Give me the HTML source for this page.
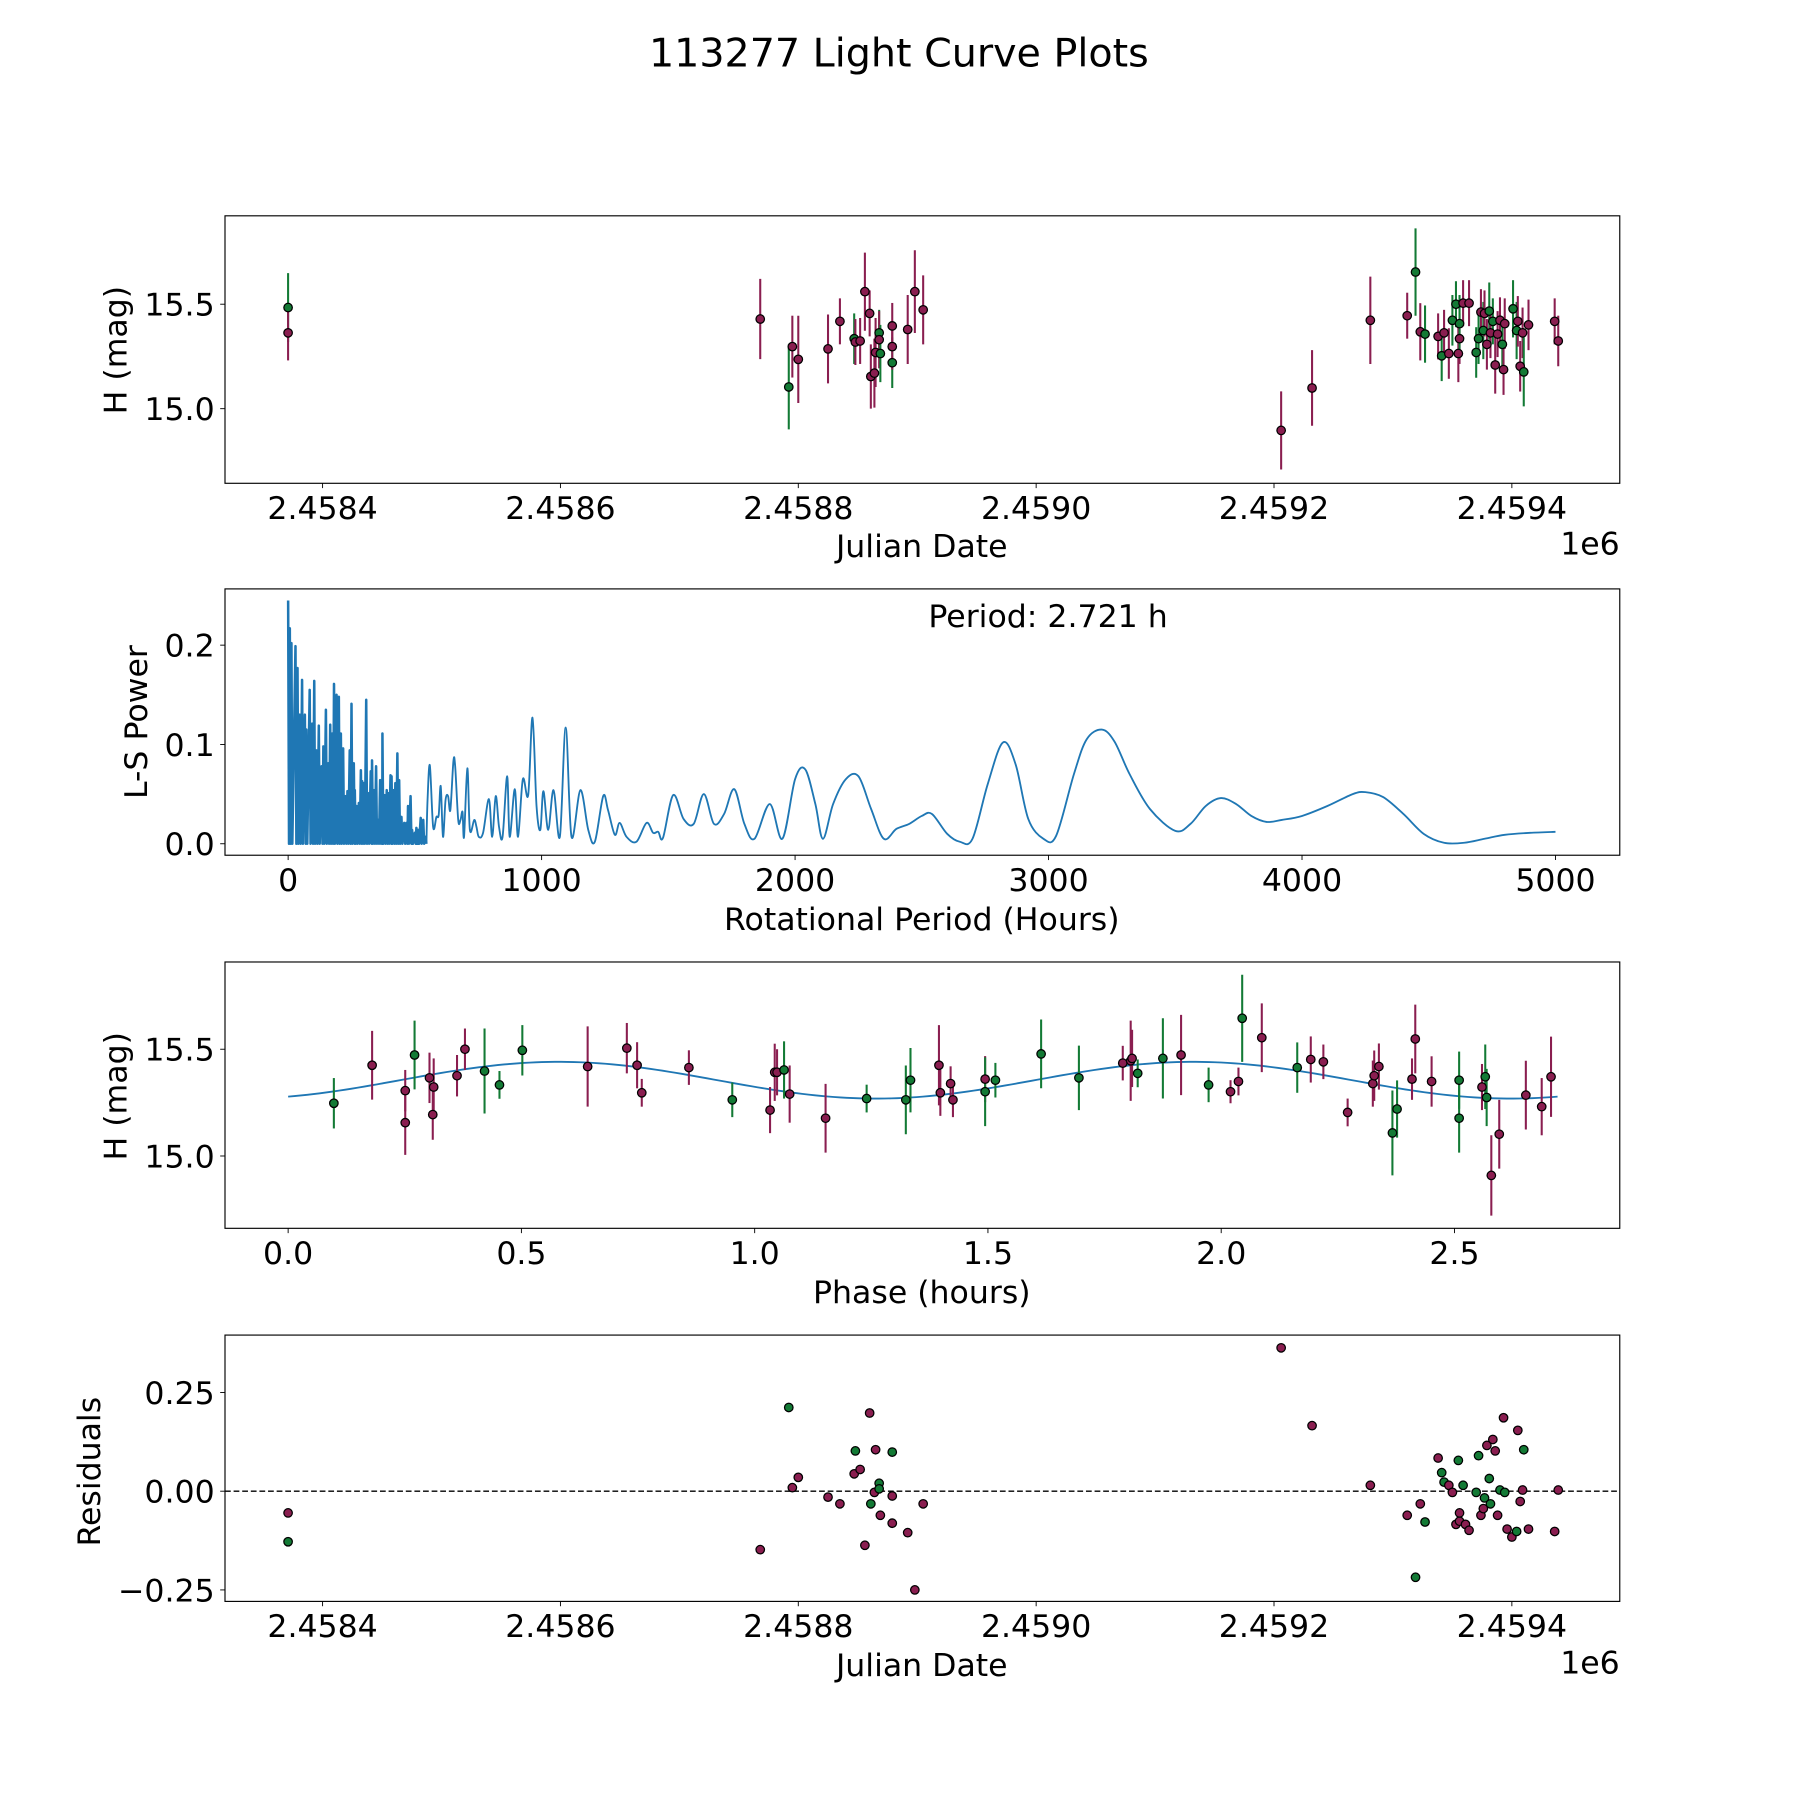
<!DOCTYPE html>
<html><head><meta charset="utf-8"><style>
html,body{margin:0;padding:0;background:#fff;}
svg{display:block;}
text{font-family:"DejaVu Sans","Liberation Sans",sans-serif;fill:#000;}
</style></head><body>
<svg id="fig" xmlns="http://www.w3.org/2000/svg" width="1800" height="1800" viewBox="0 0 1568 1568">
<rect width="1568" height="1568" fill="#fff"/>
<text x="783" y="58" font-size="34.5" text-anchor="middle">113277 Light Curve Plots</text>
<g id="plots"></g>
</svg>
<script>
// ---- Light curve data (panel 1) ----
const jd1 = [2458371,2458371,2458768,2458792,2458795,2458800,2458825,2458835,2458847,2458848,2458852,2458856,2458860,2458861,2458864,2458865,2458868,2458868,2458869,2458879,2458879,2458879,2458892,2458898,2458905,
2459206,2459232,2459281,2459312,2459319,2459323,2459327,2459338,2459341,2459343,2459347,2459350,2459353,2459355,2459356,2459356,2459359,2459364,2459370,2459372,2459374,2459376,2459377,2459379,2459381,2459382,2459384,2459386,2459388,2459390,2459392,2459393,2459394,2459401,2459404,2459405,2459407,2459409,2459410,2459414,2459436,2459439];
const mag1 = [15.484,15.363,15.429,15.104,15.297,15.236,15.286,15.418,15.335,15.319,15.324,15.560,15.456,15.154,15.170,15.269,15.363,15.330,15.264,15.220,15.396,15.297,15.379,15.560,15.473,
14.896,15.099,15.423,15.445,15.654,15.368,15.357,15.346,15.253,15.363,15.264,15.423,15.5,15.264,15.335,15.407,15.505,15.505,15.269,15.335,15.462,15.374,15.456,15.308,15.467,15.363,15.418,15.209,15.357,15.423,15.308,15.187,15.407,15.478,15.374,15.418,15.203,15.363,15.176,15.401,15.418,15.324];
const err1 = [.165,.132,.192,.203,.148,.209,.165,.11,.121,.11,.11,.187,.11,.154,.165,.165,.11,.137,.137,.121,.11,.11,.165,.198,.165,
.187,.181,.209,.11,.209,.137,.137,.11,.121,.11,.121,.121,.11,.137,.121,.137,.11,.11,.121,.121,.11,.137,.11,.121,.137,.121,.11,.137,.11,.11,.121,.121,.121,.137,.137,.121,.121,.121,.165,.121,.11,.121];
const band1 = ["g","m","m","g","m","m","m","m","g","m","m","m","m","m","m","m","g","m","g","g","m","m","m","m","m",
"m","m","m","m","g","m","g","m","g","m","m","g","g","m","m","g","m","m","g","g","m","g","m","m","g","m","g","m","m","m","g","m","m","g","g","m","m","m","g","m","m","m"];
// ---- Periodogram data (panel 2) ----
const denseP = [0,6.6,13,29,37,46,55,66,72,85,95,103,112,121,132,139,149,158,166,174,181,191,200,208,217,226,234,243,250,259,263,270,279,287,292,299,308,316,326,331,339,347,355,363,368,372,381,389,395,404,408,416,423,431,438,447,458,467,473,483,489,500,506,513,523,533,542];
const denseV = [.245,.217,.202,.199,.177,.130,.165,.130,.115,.155,.121,.164,.094,.119,.078,.098,.135,.081,.120,.111,.161,.150,.148,.111,.096,.048,.053,.094,.141,.081,.054,.038,.041,.074,.063,.061,.145,.051,.073,.084,.054,.078,.024,.064,.041,.111,.049,.054,.051,.069,.068,.054,.061,.091,.064,.027,.021,.021,.038,.048,.014,.011,.016,.014,.026,.024,.007];
const smoothP = [550,559,572,585,594,602,611,621,631,640,652,659,671,680,688,694,707,717,734,743,752,769,792,805,819,832,846,864,874,894,907,926,947,964,980,995,1007,1026,1047,1072,1095,1118,1153,1184,1210,1243,1262,1289,1308,1335,1374,1414,1440,1460,1479,1519,1560,1600,1640,1680,1720,1760,1800,1840,1900,1950,2000,2040,2080,2110,2150,2200,2250,2300,2350,2400,2450,2500,2540,2600,2650,2700,2760,2820,2870,2920,2980,3030,3100,3150,3210,3260,3320,3400,3500,3560,3620,3680,3740,3800,3860,3920,4000,4100,4200,4250,4320,4400,4480,4560,4640,4720,4800,4900,5000];
const smoothV = [.044,.079,.017,.027,.029,.058,.007,.044,.048,.034,.083,.078,.024,.024,.032,.007,.076,.014,.024,.017,.007,.011,.045,.007,.048,.017,.007,.068,.007,.055,.007,.065,.049,.127,.038,.014,.053,.014,.054,.007,.117,.007,.054,.014,.002,.048,.034,.009,.021,.007,.002,.021,.011,.012,.006,.049,.025,.02,.05,.02,.03,.055,.02,.005,.04,.005,.065,.075,.04,.005,.04,.065,.068,.035,.005,.015,.02,.028,.03,.01,.002,.005,.06,.102,.08,.025,.005,.008,.07,.105,.115,.103,.07,.035,.013,.02,.038,.046,.04,.028,.022,.024,.028,.038,.05,.052,.047,.03,.01,.001,.001,.005,.009,.011,.012];
// ---- Phased data (panel 3) ----
const phase3 = [.098,.180,.251,.251,.271,.303,.310,.312,.362,.379,.421,.453,.502,.642,.726,.748,.758,.859,.952,1.033,1.043,1.048,1.063,1.075,1.152,1.240,1.324,1.334,1.395,1.398,1.420,1.425,1.494,1.494,1.516,1.614,1.695,1.789,1.806,1.809,1.821,1.875,1.914,1.973,2.020,2.037,2.045,2.087,2.163,2.192,2.219,2.271,2.325,2.328,2.338,2.367,2.377,2.409,2.416,2.451,2.510,2.510,2.559,2.566,2.569,2.579,2.596,2.653,2.687,2.707];
const mag3 = [15.247,15.425,15.306,15.156,15.473,15.366,15.194,15.323,15.376,15.5,15.398,15.333,15.495,15.419,15.505,15.425,15.296,15.414,15.263,15.215,15.392,15.392,15.403,15.290,15.177,15.269,15.263,15.355,15.425,15.296,15.339,15.263,15.360,15.301,15.355,15.478,15.366,15.435,15.446,15.457,15.387,15.457,15.473,15.333,15.301,15.349,15.645,15.554,15.414,15.452,15.441,15.204,15.339,15.376,15.419,15.108,15.220,15.360,15.548,15.349,15.355,15.177,15.323,15.371,15.274,14.909,15.102,15.285,15.231,15.371];
const err3 = [.118,.161,.097,.151,.161,.118,.118,.134,.097,.097,.199,.065,.118,.188,.118,.108,.065,.081,.081,.108,.134,.108,.134,.134,.161,.065,.161,.151,.188,.108,.081,.081,.108,.161,.081,.161,.151,.081,.188,.134,.065,.188,.188,.081,.054,.065,.204,.161,.118,.108,.081,.065,.108,.118,.108,.199,.134,.097,.161,.118,.134,.161,.108,.151,.134,.188,.161,.161,.134,.188];
const band3 = ["g","m","m","m","g","m","m","m","m","m","g","g","g","m","m","m","m","m","g","m","m","m","g","m","m","g","g","g","m","m","m","m","m","g","g","g","g","m","m","m","g","g","m","g","m","m","g","m","g","m","m","m","m","m","m","g","g","m","m","m","g","g","m","g","g","m","m","m","m","m"];
// fit parameters: mean, amplitude, period (h), phase of peak
const fitParams = [15.355, 0.086, 2.721, 0.58];
// ---- Residuals (panel 4) ----
const jd4 = [2458371,2458371,2458768,2458792,2458795,2458800,2458825,2458835,2458847,2458848,2458852,2458856,2458860,2458861,2458864,2458865,2458868,2458868,2458869,2458879,2458879,2458879,2458892,2458898,2458905,
2459206,2459232,2459281,2459312,2459319,2459323,2459327,2459338,2459341,2459343,2459347,2459350,2459353,2459355,2459356,2459356,2459359,2459361,2459364,2459370,2459372,2459374,2459376,2459377,2459379,2459381,2459382,2459384,2459386,2459388,2459390,2459393,2459394,2459396,2459400,2459404,2459405,2459407,2459409,2459410,2459414,2459436,2459439];
const res4 = [-.055,-.128,-.148,.212,.009,.035,-.015,-.032,.044,.102,.055,-.137,.198,-.032,-.003,.105,.02,.006,-.061,.099,-.012,-.081,-.105,-.25,-.032,
.363,.166,.015,-.061,-.218,-.032,-.078,.084,.047,.023,.015,-.003,-.084,.078,-.076,-.055,.015,-.084,-.099,-.003,.09,-.061,-.044,-.017,.116,.032,-.032,.131,.102,-.061,.003,.186,-.003,-.096,-.116,-.102,.154,-.026,.003,.105,-.096,-.102,.003];
const band4 = ["m","g","m","g","m","m","m","m","m","g","m","m","m","g","m","m","g","g","m","g","m","m","m","m","m",
"m","m","m","m","g","m","g","m","g","g","m","m","m","g","m","m","g","m","m","g","g","m","m","g","m","g","g","m","m","m","g","m","g","m","m","g","m","m","m","g","m","m","m"];
const xTicksJD = [2458400,2458600,2458800,2459000,2459200,2459400];
const xTickLabelsJD = ["2.4584","2.4586","2.4588","2.4590","2.4592","2.4594"];
const yTicks1 = [15.0,15.5];
const yTickLabels1 = ["15.0","15.5"];
const xTicks2 = [0,1000,2000,3000,4000,5000];
const yTicks2 = [0,0.1,0.2];
const yTickLabels2 = ["0.0","0.1","0.2"];
const xTicks3 = [0,0.5,1,1.5,2,2.5];
const xTickLabels3 = ["0.0","0.5","1.0","1.5","2.0","2.5"];
const yTicks4 = [-0.25,0,0.25];
const yTickLabels4 = ["\u22120.25","0.00","0.25"];

const NS="http://www.w3.org/2000/svg";
const root=document.getElementById('plots');
const COL={m:"#8a1e50",g:"#137a35"};
const FS=27.5;
function mk(tag,attrs,parent){const e=document.createElementNS(NS,tag);for(const k in attrs)e.setAttribute(k,attrs[k]);(parent||root).appendChild(e);return e;}
function txt(s,attrs,parent){const e=mk('text',attrs,parent);e.textContent=s;return e;}

const jdX=v=>281+(v-2458400)*1.036;
const AX=[
 {L:196,R:1411,T:188,B:421},
 {L:196,R:1411,T:513,B:745},
 {L:196,R:1411,T:838,B:1070},
 {L:196,R:1411,T:1163,B:1395}];
const y1=v=>265+(15.5-v)*182;
const x2=v=>251+v*0.2208, y2=v=>735-v*865;
const x3=v=>251+v*406.4, y3=v=>914+(15.5-v)*186;
const y4=v=>1299-v*344;

function frame(a,name){
  const r=mk('rect',{x:a.L,y:a.T,width:a.R-a.L,height:a.B-a.T,fill:"none",stroke:"#000","stroke-width":1});
  
  
}
function xticks(a,vals,labels,fx,name){
  const g=mk('g',{});
  
  
  vals.forEach((v,i)=>{const x=fx(v);mk('line',{x1:x,x2:x,y1:a.B,y2:a.B+4.2,stroke:"#000","stroke-width":0.8},g);
    const t=txt(labels[i],{x:x,y:a.B+31,"font-size":FS,"text-anchor":"middle"},g);
    
    });
}
function yticks(a,vals,labels,fy,name){
  const g=mk('g',{});
  
  
  vals.forEach((v,i)=>{const y=fy(v);mk('line',{x1:a.L-4.2,x2:a.L,y1:y,y2:y,stroke:"#000","stroke-width":0.8},g);
    const t=txt(labels[i],{x:a.L-9,y:y+10,"font-size":FS,"text-anchor":"end"},g);
    
    });
}
function label(s,x,y,rot,name){
  const t=txt(s,{x:x,y:y,"font-size":FS,"text-anchor":"middle",transform:rot?`rotate(-90 ${x} ${y})`:""});
  
  
}
function pt(x,y,b,g){const c=mk('circle',{cx:x,cy:y,r:3.7,fill:COL[b],stroke:"#000","stroke-width":1.1},g);return c;}

// Panel 1
let a=AX[0];
frame(a,'light-curve-axes');
const g1=mk('g',{});


jd1.forEach((v,i)=>{const x=jdX(v);mk('line',{x1:x,x2:x,y1:y1(mag1[i]-err1[i]),y2:y1(mag1[i]+err1[i]),stroke:COL[band1[i]],"stroke-width":1.8},g1);});
jd1.forEach((v,i)=>{pt(jdX(v),y1(mag1[i]),band1[i],g1);});
xticks(a,xTicksJD,xTickLabelsJD,jdX,'x-axis-ticks-jd');
yticks(a,yTicks1,yTickLabels1,y1,'y-axis-ticks-mag');
label('Julian Date',803,485,false,'x-axis-title-jd');
label('H (mag)',110,305,true,'y-axis-title-mag');
txt('1e6',{x:1411,y:483,"font-size":FS,"text-anchor":"end"});

// Panel 2
a=AX[1];
frame(a,'periodogram-axes');
let d='';
denseP.forEach((p,i)=>{d+=(i?'L':'M')+x2(p).toFixed(2)+' '+y2(denseV[i]).toFixed(2)+' L'+x2(p+3.5).toFixed(2)+' '+y2(0).toFixed(2)+' ';});
const pathD=mk('path',{d:d,fill:"none",stroke:"#1f77b4","stroke-width":2.2,"stroke-linejoin":"round"});


const P=[[x2(denseP[denseP.length-1]+3.5),y2(0)]].concat(smoothP.map((p,i)=>[x2(p),y2(smoothV[i])]));
let s='M'+P[0][0]+' '+P[0][1];
for(let i=0;i<P.length-1;i++){const p0=P[Math.max(0,i-1)],p1=P[i],p2=P[i+1],p3=P[Math.min(P.length-1,i+2)];
 const c1=[p1[0]+(p2[0]-p0[0])/6,p1[1]+(p2[1]-p0[1])/6],c2=[p2[0]-(p3[0]-p1[0])/6,p2[1]-(p3[1]-p1[1])/6];
 s+=` C${c1[0].toFixed(2)} ${c1[1].toFixed(2)} ${c2[0].toFixed(2)} ${c2[1].toFixed(2)} ${p2[0].toFixed(2)} ${p2[1].toFixed(2)}`;}
const pathS=mk('path',{d:s,fill:"none",stroke:"#1f77b4","stroke-width":1.6});


xticks(a,xTicks2,xTicks2.map(String),x2,'x-axis-ticks-period');
yticks(a,yTicks2,yTickLabels2,y2,'y-axis-ticks-power');
label('Rotational Period (Hours)',803,810,false,'x-axis-title-period');
label('L-S Power',128,629,true,'y-axis-title-power');
txt('Period: 2.721 h',{x:913,y:546,"font-size":FS,"text-anchor":"middle"});

// Panel 3
a=AX[2];
frame(a,'phase-axes');
let f='';
for(let i=0;i<=200;i++){const t=fitParams[2]*i/200;const v=fitParams[0]+fitParams[1]*Math.cos(2*Math.PI*(t-fitParams[3])/(fitParams[2]/2));
 f+=(i?'L':'M')+x3(t).toFixed(2)+' '+y3(v).toFixed(2)+' ';}
const fitLine=mk('path',{d:f,fill:"none",stroke:"#1f77b4","stroke-width":1.6});


const g3=mk('g',{});


phase3.forEach((v,i)=>{const x=x3(v);mk('line',{x1:x,x2:x,y1:y3(mag3[i]-err3[i]),y2:y3(mag3[i]+err3[i]),stroke:COL[band3[i]],"stroke-width":1.8},g3);});
phase3.forEach((v,i)=>{pt(x3(v),y3(mag3[i]),band3[i],g3);});
xticks(a,xTicks3,xTickLabels3,x3,'x-axis-ticks-phase');
yticks(a,yTicks1,yTickLabels1,y3,'y-axis-ticks-mag-phase');
label('Phase (hours)',803,1135,false,'x-axis-title-phase');
label('H (mag)',110,955,true,'y-axis-title-mag-phase');

// Panel 4
a=AX[3];
frame(a,'residuals-axes');
const zl=mk('line',{x1:a.L,x2:a.R,y1:y4(0),y2:y4(0),stroke:"#000","stroke-width":1.2,"stroke-dasharray":"5,2.5"});


const g4=mk('g',{});


jd4.forEach((v,i)=>{pt(jdX(v),y4(res4[i]),band4[i],g4);});
xticks(a,xTicksJD,xTickLabelsJD,jdX,'x-axis-ticks-jd-residuals');
yticks(a,yTicks4,yTickLabels4,y4,'y-axis-ticks-residuals');
label('Julian Date',803,1460,false,'x-axis-title-jd-residuals');
label('Residuals',87,1282,true,'y-axis-title-residuals');
txt('1e6',{x:1411,y:1458,"font-size":FS,"text-anchor":"end"});
</script>
</body></html>
